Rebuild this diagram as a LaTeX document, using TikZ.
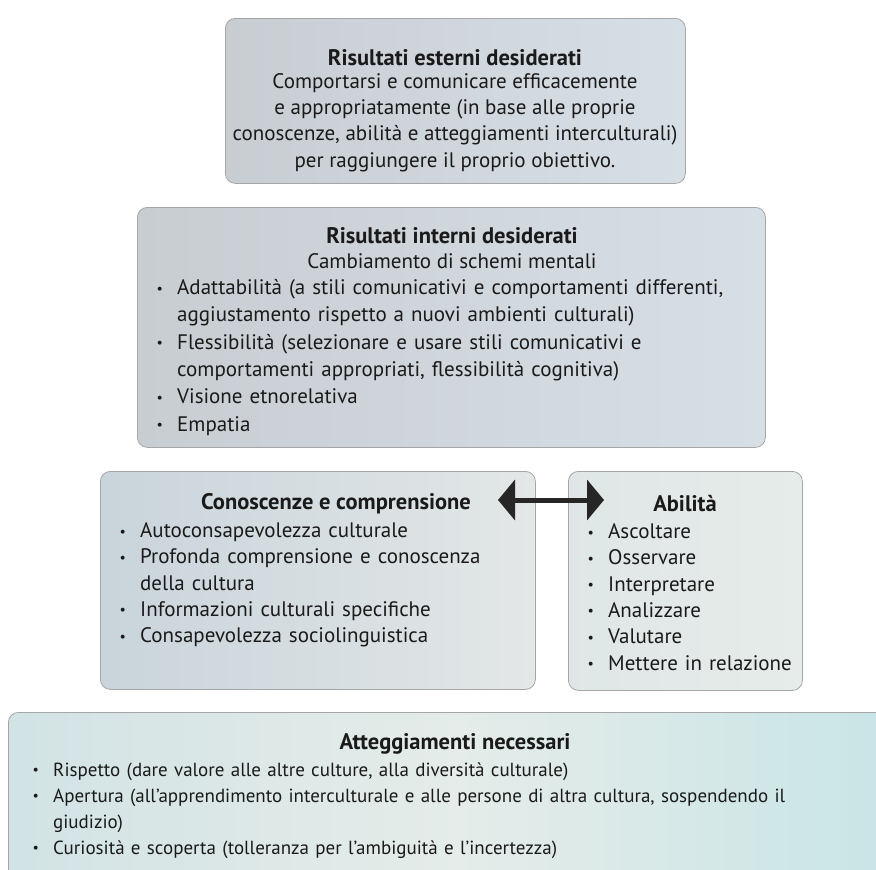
\documentclass[tikz,border=0pt]{standalone}
\usepackage{fontspec}
\setmainfont{PT Sans}
\usepackage{tikz}
\usetikzlibrary{arrows.meta}
\definecolor{panelgrayL}{HTML}{C8CDD2}
\definecolor{panelgrayR}{HTML}{D7DFE6}
\definecolor{panelblueL}{HTML}{C9D4DB}
\definecolor{panelblueR}{HTML}{E3E7E7}
\definecolor{panelmintL}{HTML}{D2E3E5}
\definecolor{panelmintM}{HTML}{E5ECE9}
\definecolor{inktext}{HTML}{1A1A1A}
\newcommand{\punto}[1]{\par\noindent\hangindent=24pt\hangafter=1%
  \makebox[24pt][l]{\hspace{3.5pt}\raisebox{1.5pt}{\fontsize{14}{14}\selectfont\textbullet}}#1}

\begin{document}
\begin{tikzpicture}[x=1pt,y=-1pt]

\tikzset{
panel/.style={
draw=black!35,
line width=0.8pt,
rounded corners=10pt,
anchor=north west,
inner sep=0pt
},
paneltitle/.style={
font=\fontsize{22.5}{27}\selectfont\bfseries,
text=inktext,
inner sep=0pt,
anchor=base
},
paneltext/.style={
font=\fontsize{21}{26.3}\selectfont,
text=inktext,
inner sep=0pt,
align=center,
anchor=north
},
panellist/.style={
font=\fontsize{21}{26.3}\selectfont,
text=inktext,
inner sep=0pt,
align=left,
anchor=north west
},
biarrow/.style={
{Triangle[length=17pt,width=40pt]}-{Triangle[length=17pt,width=40pt]},
line width=5pt,
draw=black!85
}
}

\clip (0,0) rectangle (876,870);
\fill[white] (0,0) rectangle (876,870);

%--------------------------------------------------
% RISULTATI ESTERNI
%--------------------------------------------------

\node[panel,left color=panelgrayL,right color=panelgrayR,
minimum width=460pt,minimum height=165pt]
(esterni) at (225,18) {};

\node[paneltitle] (esterniT) at (455,65)
{Risultati esterni desiderati};
\node[paneltext] (esterniB) at (455,73)
{Comportarsi e comunicare efficacemente\\
e appropriatamente (in base alle proprie\\
conoscenze, abilità e atteggiamenti interculturali)\\
per raggiungere il proprio obiettivo.};

%--------------------------------------------------
% RISULTATI INTERNI
%--------------------------------------------------

\node[panel,left color=panelgrayL,right color=panelgrayR,
minimum width=628pt,minimum height=240pt]
(interni) at (137,207) {};

\node[paneltitle] (interniT) at (452,243)
{Risultati interni desiderati};
\node[paneltext] (interniS) at (452,253)
{Cambiamento di schemi mentali};
\node[panellist,text width=605pt,font=\fontsize{21}{27.3}\selectfont]
(interniL) at (153,267)
{\punto{Adattabilità (a stili comunicativi e comportamenti differenti,\newline
aggiustamento rispetto a nuovi ambienti culturali)}
\punto{Flessibilità (selezionare e usare stili comunicativi e\newline
comportamenti appropriati, flessibilità cognitiva)}
\punto{Visione etnorelativa}
\punto{Empatia}};

%--------------------------------------------------
% CONOSCENZE E ABILITA'
%--------------------------------------------------

\node[panel,left color=panelblueL,right color=panelblueR,
minimum width=435pt,minimum height=218pt]
(conosc) at (100,471) {};

\node[paneltitle] (conoscT) at (336,509)
{Conoscenze e comprensione};
\node[panellist,text width=410pt] (conoscL) at (116,511)
{\punto{Autoconsapevolezza culturale}
\punto{Profonda comprensione e conoscenza\newline della cultura}
\punto{Informazioni culturali specifiche}
\punto{Consapevolezza sociolinguistica}};

\node[panel,left color=panelblueR!80!panelmintL,right color=panelmintM,
minimum width=234pt,minimum height=219pt]
(abil) at (568,471) {};

\node[paneltitle] (abilT) at (685,511)
{Abilità};
\node[panellist,text width=215pt] (abilL) at (584,512)
{\punto{Ascoltare}
\punto{Osservare}
\punto{Interpretare}
\punto{Analizzare}
\punto{Valutare}
\punto{Mettere in relazione}};

\coordinate (arrL) at (498,500);
\coordinate (arrR) at (604,500);
\draw[biarrow] (arrL) -- (arrR);

%--------------------------------------------------
% ATTEGGIAMENTI
%--------------------------------------------------

\node[panel,left color=panelmintL,right color=panelmintL!95!cyan,
middle color=panelmintM,
minimum width=900pt,minimum height=200pt]
(atteg) at (8,712) {};

\node[paneltitle] (attegT) at (455,749)
{Atteggiamenti necessari};
\node[panellist,text width=820pt,font=\fontsize{19}{26}\selectfont]
(attegL) at (29,750)
{\punto{Rispetto (dare valore alle altre culture, alla diversità culturale)}
\punto{Apertura (all’apprendimento interculturale e alle persone di altra cultura, sospendendo il\newline
giudizio)}
\punto{Curiosità e scoperta (tolleranza per l’ambiguità e l’incertezza)}};

\end{tikzpicture}
\end{document}
